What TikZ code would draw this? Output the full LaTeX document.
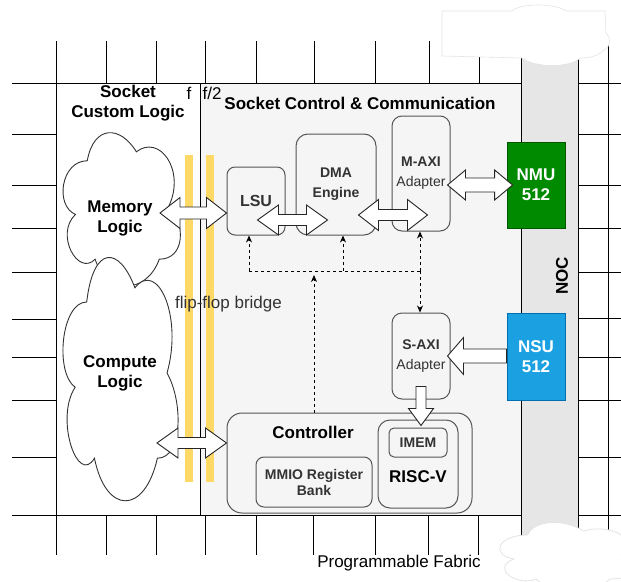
\documentclass[tikz,border=0pt]{standalone}
\usepackage{fontspec}
\setmainfont{Liberation Sans}
\usetikzlibrary{calc,arrows.meta}

\definecolor{boxfill}{HTML}{F5F5F5}
\definecolor{boxline}{HTML}{555555}
\definecolor{boxtext}{HTML}{333333}
\definecolor{nocfill}{HTML}{E6E6E6}
\definecolor{nmufill}{HTML}{008A00}
\definecolor{nmuline}{HTML}{005700}
\definecolor{nsufill}{HTML}{1BA1E2}
\definecolor{nsuline}{HTML}{006EAF}
\definecolor{ffyellow}{HTML}{FFD966}
\definecolor{coverline}{HTML}{E4E4E4}

\newcommand\fsA{\fontsize{17}{20}\selectfont}
\newcommand\fsB{\fontsize{14}{20}\selectfont}
\newcommand\fsC{\fontsize{16}{20}\selectfont}

% horizontal double block arrow: #1 left tip, #2 right tip, #3 head length, #4 head half width, #5 shaft half width
\newcommand\hdbl[5]{\draw[blockarrow] let \p1=#1, \p2=#2 in
 (\x1,\y1) -- (\x1+#3,\y1+#4) -- (\x1+#3,\y1+#5) -- (\x2-#3,\y1+#5) -- (\x2-#3,\y1+#4) -- (\x2,\y1)
 -- (\x2-#3,\y1-#4) -- (\x2-#3,\y1-#5) -- (\x1+#3,\y1-#5) -- (\x1+#3,\y1-#4) -- cycle;}

\tikzset{
  gridline/.style={draw=black, line width=1pt},
  gbox/.style={draw=boxline, fill=boxfill, line width=1pt, rounded corners=8pt, inner sep=0pt,
     text=boxtext, font=\fsB\bfseries, align=center},
  blockarrow/.style={draw=black!85, fill=white, line width=0.9pt, line join=miter},
  dashline/.style={draw=black, line width=0.8pt, dash pattern=on 3pt off 3pt},
  dashconn/.style={dashline, -{Stealth[length=7pt,width=6pt]}},
  ttl/.style={font=\fsA\bfseries, align=center, inner sep=0pt},
  cloudstyle/.style={draw=black!80, fill=white, line width=0.9pt},
}

\begin{document}
\begin{tikzpicture}[x=1pt,y=-1pt]
\useasboundingbox (0,0) rectangle (621,581);
\fill[white] (0,0) rectangle (621,581);

% ---------- programmable fabric grid ----------
\foreach \gx in {56,106,156,205,256,314,375,429,479} \draw[gridline] (\gx,41) -- (\gx,83);
\foreach \gx in {56,106,156,205,256,313,375,428,478} \draw[gridline] (\gx,515) -- (\gx,555);
\foreach \gy in {83,134,185,228,272,319,357,400,457,515} \draw[gridline] (12,\gy) -- (56,\gy);
\foreach \gy in {83,134,185,228,272,318,357,400,457,515} \draw[gridline] (578,\gy) -- (621,\gy);
\draw[gridline] (608,45) -- (608,540);

% ---------- socket regions ----------
\node[draw=black, line width=1pt, fill=white, minimum width=144pt, minimum height=432pt, inner sep=0pt] (custom) at (128,299) {};
\node[draw=black, line width=1pt, fill=boxfill, minimum width=322pt, minimum height=432pt, inner sep=0pt] (control) at (361,299) {};

% ---------- NOC strip ----------
\node[fill=nocfill, minimum width=56pt, minimum height=510pt, inner sep=0pt] (noc) at (550,290) {};
\draw[gridline] (noc.north west) -- (noc.south west);
\draw[gridline] (noc.north east) -- (noc.south east);

% ---------- white covers at the ends of the NOC ----------
\path[fill=white, draw=coverline, line width=0.6pt]
  (442,11) -- (512,11) .. controls (520,3) and (555,3) .. (566,11) -- (605,11) -- (606,33)
  .. controls (611,37) and (611,47) .. (604,50) .. controls (598,56) and (590,58) .. (580,58)
  .. controls (570,68) and (535,68) .. (522,58) -- (442,56) -- cycle;
\begin{scope}[shift={(490,515)}, x=150pt, y=-80pt]
\path[fill=white, draw=coverline, line width=0.8pt]
  (0.25,0.25) .. controls (0.05,0.25) and (0,0.5) .. (0.16,0.55)
  .. controls (0,0.66) and (0.18,0.9) .. (0.31,0.8)
  .. controls (0.4,1) and (0.7,1) .. (0.8,0.8)
  .. controls (1,0.8) and (1,0.6) .. (0.875,0.5)
  .. controls (1,0.3) and (0.8,0.1) .. (0.625,0.2)
  .. controls (0.5,0.05) and (0.3,0.05) .. (0.25,0.25) -- cycle;
\end{scope}

% ---------- flip-flop bridge bars ----------
\node[fill=ffyellow, minimum width=8pt, minimum height=327pt, inner sep=0pt] (ffa) at (188.5,318.5) {};
\node[fill=ffyellow, minimum width=8pt, minimum height=327pt, inner sep=0pt] (ffb) at (210,318.5) {};

% ---------- clouds ----------
\begin{scope}[shift={(54.5,116)}, x=131pt, y=-179pt]
\path[cloudstyle]
  (0.25,0.25) .. controls (0.05,0.25) and (0,0.5) .. (0.16,0.55)
  .. controls (0,0.66) and (0.18,0.9) .. (0.31,0.8)
  .. controls (0.4,1) and (0.7,1) .. (0.8,0.8)
  .. controls (1,0.8) and (1,0.6) .. (0.875,0.5)
  .. controls (1,0.3) and (0.8,0.1) .. (0.625,0.2)
  .. controls (0.5,0.05) and (0.3,0.05) .. (0.25,0.25) -- cycle;
\end{scope}
\begin{scope}[shift={(54.6,231)}, x=128.5pt, y=-284pt]
\path[cloudstyle]
  (0.25,0.25) .. controls (0.05,0.25) and (0,0.5) .. (0.16,0.55)
  .. controls (0,0.66) and (0.18,0.9) .. (0.31,0.8)
  .. controls (0.4,1) and (0.7,1) .. (0.8,0.8)
  .. controls (1,0.8) and (1,0.6) .. (0.875,0.5)
  .. controls (1,0.3) and (0.8,0.1) .. (0.625,0.2)
  .. controls (0.5,0.05) and (0.3,0.05) .. (0.25,0.25) -- cycle;
\end{scope}
\node[ttl] (mem) at (120,218) {Memory\\Logic};
\node[ttl] (comp) at (120,373) {Compute\\Logic};

% ---------- titles ----------
\node[ttl] (customttl) at (128,103) {Socket\\Custom Logic};
\node[font=\fsA, inner sep=0pt] (flbl) at (189,93) {f};
\node[font=\fsA, inner sep=0pt] (f2lbl) at (212,93) {f/2};
\node[ttl] (controlttl) at (360,103) {Socket Control \& Communication};
\node[font=\fsA, text=boxtext, inner sep=0pt] (fflbl) at (228.5,304) {flip-flop bridge};
\node[font=\fsA, inner sep=0pt] (fabric) at (399,563) {Programmable Fabric};
\node[ttl, rotate=90] (noclbl) at (562,276) {NOC};

% ---------- blocks ----------
\node[gbox, font=\fsC\bfseries, minimum width=58pt, minimum height=68pt] (lsu) at (256,201) {LSU};
\node[gbox, rounded corners=12pt, minimum width=80pt, minimum height=101pt] (dma) at (336,184.5) {DMA\\Engine};
\node[gbox, rounded corners=10pt, minimum width=58pt, minimum height=115pt] (maxi) at (421,173.5) {M-AXI\\\textmd{Adapter}};
\node[gbox, rounded corners=10pt, minimum width=58pt, minimum height=86pt] (saxi) at (421,356) {S-AXI\\\textmd{Adapter}};

\node[gbox, rounded corners=15pt, minimum width=245pt, minimum height=100pt] (ctrl) at (349.5,463) {};
\node[ttl] (ctrllbl) at (313,432) {Controller};
\node[gbox, font=\fontsize{14}{16}\selectfont\bfseries, minimum width=116pt, minimum height=50pt] (mmio) at (314,482) {MMIO Register\\Bank};
\node[gbox, rounded corners=12pt, minimum width=80pt, minimum height=88pt] (riscv) at (418,464) {};
\node[ttl] (riscvlbl) at (418,477) {RISC-V};
\node[gbox, rounded corners=5pt, minimum width=58pt, minimum height=29pt] (imem) at (418,442.5) {IMEM};

\node[fill=nmufill, draw=nmuline, line width=0.8pt, minimum width=58pt, minimum height=86pt, text=white, font=\fsA\bfseries, align=center, inner sep=0pt] (nmu) at (536,185) {NMU\\512};
\node[fill=nsufill, draw=nsuline, line width=0.8pt, minimum width=58pt, minimum height=87pt, text=white, font=\fsA\bfseries, align=center, inner sep=0pt] (nsu) at (536,356.5) {NSU\\512};

% ---------- dashed control connections ----------
\coordinate (busL) at (249,271);
\coordinate (busD) at (343,271);
\coordinate (busC) at (314,271);
\coordinate (busR) at (420,271);
\draw[dashline] (busL) -- (busR);
\draw[dashconn] (busL) -- (busL |- lsu.south);
\draw[dashconn] (busD) -- (busD |- dma.south);
\draw[dashconn] (busR) -- (busR |- maxi.south);
\draw[dashconn] (busR) -- (busR |- saxi.north);
\draw[dashconn] (busC |- ctrl.north) -- ([yshift=-4pt]busC);

% ---------- block arrows ----------
\coordinate (memtip) at (160,213);
\coordinate (comptip) at (157,443);
\hdbl{(memtip)}{(memtip -| lsu.west)}{20pt}{15.5pt}{6pt}
\hdbl{(comptip)}{(comptip -| ctrl.west)}{21pt}{15pt}{5.5pt}
\hdbl{([xshift=-28pt,yshift=-19pt]lsu.east)}{([xshift=32pt,yshift=-19pt]lsu.east -| dma.west)}{21pt}{15pt}{5.5pt}
\hdbl{([xshift=-18pt,yshift=-30.5pt]dma.east)}{([xshift=36pt,yshift=-30.5pt]dma.east -| maxi.west)}{20pt}{15.5pt}{5.5pt}
\hdbl{([xshift=-3pt]maxi.east |- nmu.west)}{([xshift=6pt]nmu.west)}{18pt}{15pt}{7pt}

\draw[blockarrow] let \p1=([xshift=-3pt]saxi.east), \p2=(nsu.west) in
  (\x1,\y1) -- (\x1+16pt,\y1+18.5pt) -- (\x1+16pt,\y1+7pt) -- (\x2,\y1+7pt) -- (\x2,\y1-7pt)
  -- (\x1+16pt,\y1-7pt) -- (\x1+16pt,\y1-18.5pt) -- cycle;
\draw[blockarrow] let \p1=([yshift=13pt]saxi.south), \p2=([yshift=2pt]imem.north) in
  (\x1-5pt,\y1) -- (\x1-5pt,\y2+17pt) -- (\x1-12.5pt,\y2+17pt) -- (\x1,\y2) -- (\x1+12.5pt,\y2+17pt)
  -- (\x1+5pt,\y2+17pt) -- (\x1+5pt,\y1) -- cycle;
\end{tikzpicture}
\end{document}
